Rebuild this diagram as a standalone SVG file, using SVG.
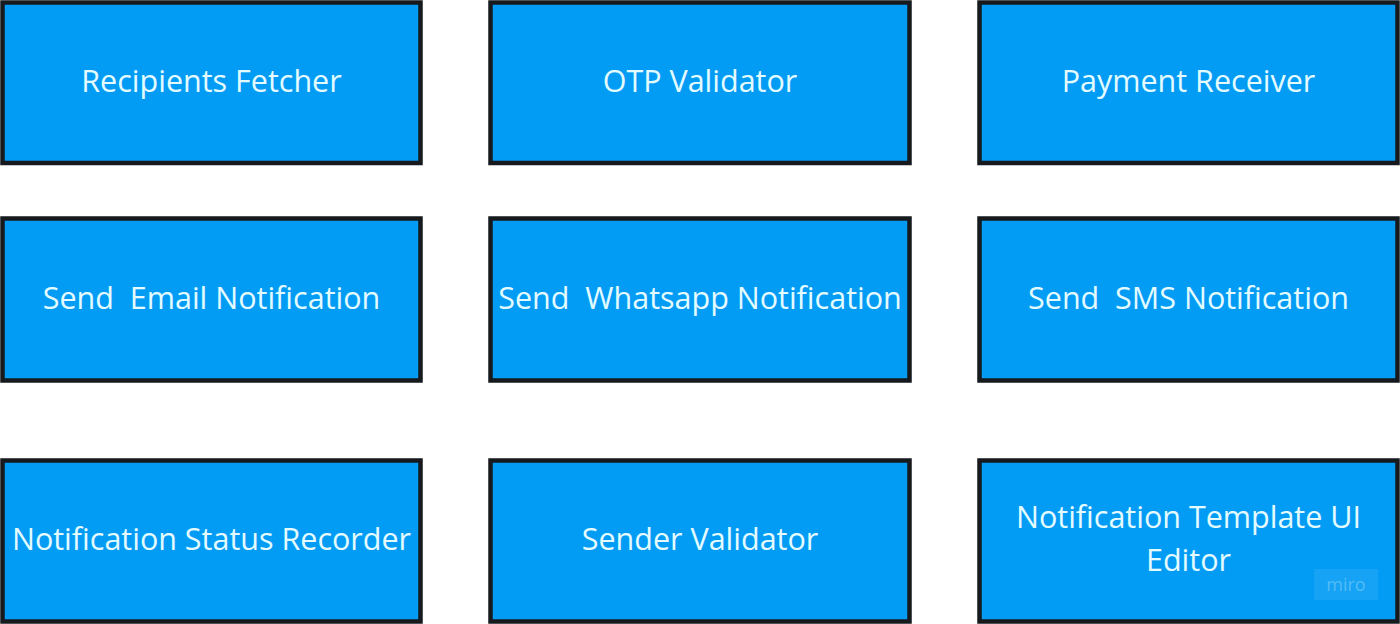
<svg xmlns="http://www.w3.org/2000/svg" width="1400" height="624" viewBox="0 0 1400 624">
<style>
.box{fill:#039cf5;stroke:#16191d;stroke-width:4.5}
.lbl{font-family:"Open Sans","Noto Sans",sans-serif;font-size:30.5px;fill:#e3fbff;text-anchor:middle;dominant-baseline:central}
.wm{font-family:"Open Sans","Noto Sans",sans-serif;font-size:18px;fill:#6cc8f7;text-anchor:middle;dominant-baseline:central;opacity:0.7}
</style>
<rect width="1400" height="624" fill="#ffffff"/>
<g id="recipients-fetcher"><rect class="box" x="2.5" y="2.5" width="418" height="160.5"/><text class="lbl" x="211.5" y="80">Recipients Fetcher</text></g>
<g id="otp-validator"><rect class="box" x="490.5" y="2.5" width="419" height="160.5"/><text class="lbl" x="700" y="80">OTP Validator</text></g>
<g id="payment-receiver"><rect class="box" x="979.5" y="2.5" width="418" height="160.5"/><text class="lbl" x="1188.5" y="80">Payment Receiver</text></g>
<g id="send-email"><rect class="box" x="2.5" y="218.5" width="418" height="162"/><text class="lbl" x="211.5" y="297" xml:space="preserve">Send  Email Notification</text></g>
<g id="send-whatsapp"><rect class="box" x="490.5" y="218.5" width="419" height="162"/><text class="lbl" x="700" y="297" xml:space="preserve">Send  Whatsapp Notification</text></g>
<g id="send-sms"><rect class="box" x="979.5" y="218.5" width="418" height="162"/><text class="lbl" x="1188.5" y="297" xml:space="preserve">Send  SMS Notification</text></g>
<g id="status-recorder"><rect class="box" x="2.5" y="460.5" width="418" height="161"/><text class="lbl" x="211.5" y="538">Notification Status Recorder</text></g>
<g id="sender-validator"><rect class="box" x="490.5" y="460.5" width="419" height="161"/><text class="lbl" x="700" y="538">Sender Validator</text></g>
<g id="template-editor"><rect class="box" x="979.5" y="460.5" width="418" height="161"/><text class="lbl" x="1188.5" y="516">Notification Template UI</text><text class="lbl" x="1188.5" y="559">Editor</text></g>
<g id="watermark"><rect x="1314" y="569" width="64" height="31" fill="#2aa8f5" opacity="0.5"/><text class="wm" x="1346" y="584">miro</text></g>
<g id="connectors"/>
</svg>
